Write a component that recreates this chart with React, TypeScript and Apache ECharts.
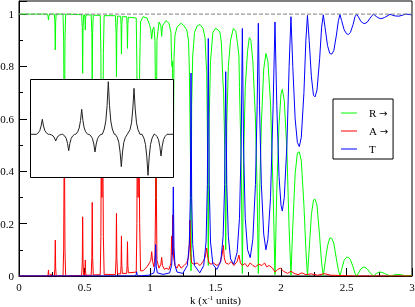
import React, { useEffect, useRef } from 'react';
import * as echarts from 'echarts';

const SERIES_NAMES = ['R →', 'A →', 'T'];

const R_DATA = [
  [0, 1], [0.218, 1], [0.222, 0.99], [0.225, 0.977], [0.228, 0.99], [0.232, 1],
  [0.27, 1], [0.274, 0.97], [0.277, 0.863], [0.28, 0.97], [0.284, 1],
  [0.336, 1], [0.341, 0.9], [0.346, 0.4], [0.351, 0.9], [0.356, 1],
  [0.478, 0.998], [0.483, 0.95], [0.486, 0.774], [0.489, 0.95], [0.494, 0.997],
  [0.501, 0.997], [0.504, 0.98], [0.506, 0.939], [0.508, 0.98], [0.511, 0.997],
  [0.551, 0.997], [0.556, 0.93], [0.559, 0.719], [0.562, 0.93], [0.567, 0.996],
  [0.62, 0.995], [0.625, 0.85], [0.628, 0.45], [0.633, 0.7], [0.639, 0.4], [0.644, 0.85], [0.65, 0.994],
  [0.736, 0.994], [0.741, 0.93], [0.744, 0.761], [0.747, 0.93], [0.752, 0.992],
  [0.776, 0.992], [0.779, 0.96], [0.782, 0.847], [0.785, 0.96], [0.789, 0.99],
  [0.822, 0.99], [0.825, 0.96], [0.828, 0.869], [0.831, 0.96], [0.835, 0.988],
  [0.895, 0.985], [0.9, 0.8], [0.903, 0.4], [0.909, 0.7], [0.916, 0.4], [0.921, 0.8], [0.928, 0.97],
  [0.947, 0.99], [0.977, 0.985], [0.996, 0.96], [1.006, 0.94], [1.013, 0.905], [1.02, 0.94], [1.03, 0.95],
  [1.038, 0.9], [1.043, 0.6], [1.046, 0.23], [1.049, 0.6], [1.053, 0.9], [1.069, 0.97], [1.083, 0.955],
  [1.089, 0.915], [1.095, 0.955], [1.122, 0.975], [1.145, 0.965], [1.16, 0.93], [1.164, 0.84], [1.168, 0.8],
  [1.172, 0.82], [1.178, 0.43], [1.183, 0.83], [1.191, 0.92], [1.206, 0.95], [1.237, 0.965], [1.26, 0.955],
  [1.28, 0.94], [1.294, 0.9], [1.3, 0.8], [1.305, 0.6], [1.309, 0.45], [1.313, 0.02], [1.318, 0.65],
  [1.326, 0.84], [1.34, 0.93], [1.36, 0.955], [1.382, 0.96], [1.405, 0.945], [1.42, 0.91], [1.428, 0.82],
  [1.433, 0.78], [1.438, 0.55], [1.445, 0.04], [1.452, 0.6], [1.462, 0.82], [1.48, 0.93], [1.5, 0.945],
  [1.52, 0.94], [1.534, 0.93], [1.545, 0.89], [1.556, 0.75], [1.562, 0.7], [1.57, 0.5], [1.578, 0.1],
  [1.586, 0.58], [1.598, 0.8], [1.615, 0.9], [1.636, 0.945], [1.655, 0.935], [1.665, 0.9], [1.679, 0.84],
  [1.683, 0.72], [1.696, 0.44], [1.705, 0.01], [1.714, 0.43], [1.727, 0.72], [1.745, 0.86], [1.758, 0.91],
  [1.77, 0.9], [1.785, 0.82], [1.805, 0.6], [1.818, 0.32], [1.827, 0.01], [1.836, 0.3], [1.85, 0.58],
  [1.868, 0.79], [1.885, 0.85], [1.9, 0.82], [1.92, 0.66], [1.94, 0.32], [1.954, 0.005],
  [1.968, 0.33], [1.985, 0.58], [2.0, 0.695], [2.01, 0.713], [2.025, 0.67], [2.045, 0.48], [2.062, 0.18],
  [2.076, 0.003], [2.09, 0.19], [2.108, 0.39], [2.125, 0.47], [2.14, 0.474], [2.155, 0.44], [2.175, 0.27],
  [2.19, 0.1], [2.202, 0], [2.215, 0.1], [2.232, 0.235], [2.248, 0.29], [2.26, 0.293], [2.275, 0.27],
  [2.295, 0.15], [2.31, 0.05], [2.323, 0], [2.336, 0.05], [2.355, 0.115], [2.372, 0.145], [2.387, 0.144],
  [2.403, 0.125], [2.423, 0.065], [2.438, 0.022], [2.45, 0], [2.463, 0.025], [2.482, 0.06], [2.5, 0.072],
  [2.515, 0.071], [2.53, 0.062], [2.55, 0.035], [2.565, 0.01], [2.578, 0], [2.59, 0.01], [2.61, 0.027],
  [2.628, 0.034], [2.641, 0.033], [2.66, 0.026], [2.68, 0.012], [2.705, 0], [2.73, 0.01], [2.75, 0.015],
  [2.77, 0.014], [2.79, 0.01], [2.832, 0], [2.87, 0.005], [2.9, 0.006], [2.925, 0.004], [2.954, 0], [3, 0.003],
];

const A_DATA = [
  [0, 0], [0.218, 0], [0.222, 0.006], [0.225, 0.023], [0.228, 0.006], [0.232, 0],
  [0.24, 0], [0.244, 0.008], [0.248, 0],
  [0.27, 0], [0.274, 0.03], [0.277, 0.137], [0.28, 0.03], [0.284, 0],
  [0.336, 0], [0.341, 0.1], [0.346, 0.6], [0.351, 0.1], [0.356, 0],
  [0.478, 0.002], [0.483, 0.05], [0.486, 0.226], [0.489, 0.05], [0.494, 0.003],
  [0.501, 0.003], [0.504, 0.02], [0.506, 0.061], [0.508, 0.02], [0.511, 0.003],
  [0.551, 0.003], [0.556, 0.07], [0.559, 0.281], [0.562, 0.07], [0.567, 0.004],
  [0.62, 0.005], [0.625, 0.15], [0.628, 0.55], [0.633, 0.3], [0.639, 0.6], [0.644, 0.15], [0.65, 0.006],
  [0.736, 0.006], [0.741, 0.07], [0.744, 0.239], [0.747, 0.07], [0.752, 0.008],
  [0.776, 0.008], [0.779, 0.04], [0.782, 0.153], [0.785, 0.04], [0.789, 0.01],
  [0.822, 0.01], [0.825, 0.04], [0.828, 0.131], [0.831, 0.04], [0.835, 0.012],
  [0.895, 0.015], [0.9, 0.2], [0.903, 0.6], [0.909, 0.3], [0.916, 0.6], [0.921, 0.2], [0.928, 0.02],
  [0.947, 0.02], [0.977, 0.035], [0.996, 0.05], [1.006, 0.06], [1.013, 0.093], [1.02, 0.055], [1.03, 0.035],
  [1.038, 0.08], [1.043, 0.3], [1.046, 0.65], [1.049, 0.3], [1.053, 0.06], [1.069, 0.03], [1.083, 0.045],
  [1.089, 0.071], [1.095, 0.04], [1.11, 0.025], [1.122, 0.03], [1.145, 0.025], [1.16, 0.05], [1.166, 0.153],
  [1.17, 0.08], [1.174, 0.233], [1.18, 0.07], [1.191, 0.04], [1.206, 0.03], [1.22, 0.045], [1.237, 0.03],
  [1.26, 0.04], [1.28, 0.05], [1.294, 0.07], [1.3, 0.12], [1.305, 0.214], [1.31, 0.09], [1.318, 0.05],
  [1.336, 0.045], [1.36, 0.05], [1.382, 0.04], [1.405, 0.055], [1.42, 0.07], [1.428, 0.09], [1.433, 0.107],
  [1.438, 0.08], [1.45, 0.05], [1.466, 0.045], [1.483, 0.05], [1.511, 0.04], [1.534, 0.05], [1.55, 0.08],
  [1.56, 0.117], [1.567, 0.07], [1.578, 0.05], [1.6, 0.045], [1.62, 0.055], [1.64, 0.04], [1.665, 0.055],
  [1.679, 0.08], [1.69, 0.05], [1.705, 0.04], [1.725, 0.048], [1.745, 0.035], [1.765, 0.05], [1.785, 0.04],
  [1.805, 0.035], [1.83, 0.045], [1.855, 0.04], [1.875, 0.05], [1.89, 0.035], [1.91, 0.04], [1.935, 0.03],
  [1.954, 0.015], [1.975, 0.025], [1.995, 0.03], [2.02, 0.018], [2.05, 0.01], [2.076, 0.018], [2.1, 0.01],
  [2.13, 0.005], [2.16, 0.012], [2.19, 0.005], [2.23, 0.008], [2.28, 0.003], [2.33, 0.009], [2.38, 0.003],
  [2.45, 0.002], [2.55, 0], [3, 0],
];

const T_DATA = [
  [0, 0], [0.885, 0], [0.894, 0.004], [0.898, 0.016], [0.902, 0.004], [0.91, 0],
  [0.99, 0.003], [1.03, 0.012], [1.038, 0.035], [1.043, 0.12], [1.048, 0.035], [1.056, 0.012], [1.1, 0.006],
  [1.15, 0.012], [1.165, 0.04], [1.173, 0.11], [1.178, 0.34], [1.183, 0.11], [1.191, 0.04], [1.206, 0.015], [1.25, 0.01],
  [1.285, 0.04], [1.3, 0.12], [1.308, 0.3], [1.313, 0.775], [1.318, 0.3], [1.326, 0.12], [1.34, 0.04], [1.38, 0.012],
  [1.41, 0.04], [1.428, 0.13], [1.438, 0.35], [1.445, 0.907], [1.452, 0.35], [1.462, 0.13], [1.48, 0.045], [1.51, 0.025],
  [1.54, 0.055], [1.558, 0.15], [1.57, 0.35], [1.578, 0.78], [1.586, 0.35], [1.598, 0.15], [1.615, 0.065], [1.64, 0.045],
  [1.665, 0.09], [1.683, 0.22], [1.696, 0.5], [1.705, 0.945], [1.714, 0.5], [1.727, 0.22], [1.745, 0.1], [1.765, 0.07],
  [1.785, 0.14], [1.805, 0.35], [1.818, 0.65], [1.827, 0.965], [1.836, 0.65], [1.85, 0.35], [1.868, 0.16], [1.885, 0.1],
  [1.9, 0.14], [1.92, 0.3], [1.94, 0.65], [1.954, 0.97], [1.968, 0.65], [1.985, 0.38], [2.0, 0.27], [2.01, 0.248],
  [2.025, 0.3], [2.045, 0.5], [2.062, 0.8], [2.076, 0.99], [2.09, 0.8], [2.108, 0.6], [2.125, 0.51], [2.14, 0.494],
  [2.155, 0.53], [2.175, 0.7], [2.19, 0.9], [2.202, 0.995], [2.215, 0.9], [2.232, 0.76], [2.248, 0.69], [2.26, 0.684],
  [2.275, 0.71], [2.295, 0.83], [2.31, 0.95], [2.323, 0.997], [2.336, 0.95], [2.355, 0.88], [2.372, 0.85], [2.387, 0.847],
  [2.403, 0.86], [2.423, 0.92], [2.438, 0.975], [2.45, 0.998], [2.463, 0.975], [2.482, 0.94], [2.5, 0.925], [2.515, 0.922],
  [2.53, 0.93], [2.55, 0.96], [2.565, 0.99], [2.578, 0.999], [2.59, 0.99], [2.61, 0.972], [2.628, 0.965], [2.641, 0.964],
  [2.66, 0.97], [2.68, 0.985], [2.705, 1], [2.73, 0.99], [2.75, 0.984], [2.77, 0.983],
  [2.79, 0.987], [2.832, 0.999], [2.87, 0.993], [2.9, 0.992], [2.954, 1], [3, 0.997],
];

const REF_LINE = [[0, 1], [3, 1]];

const INSET_DATA = [
  [0, 0],
  [5.3, 0], [7.3, 1.5], [8.8, 3.8], [10.1, 8.3], [11.3, 15], [12.5, 8.3], [13.8, 3.8], [15.3, 1.5], [17.3, 0],
  [18.7, 0], [20.7, -0.7], [22.2, -1.7], [23.5, -3.7], [24.7, -6.7], [25.9, -3.7], [27.2, -1.7], [28.7, -0.7], [30.7, 0],
  [31.7, 0], [33.7, -1.6], [35.2, -4.1], [36.5, -9], [37.7, -16.4], [38.9, -9], [40.2, -4.1], [41.7, -1.6], [43.7, 0],
  [44.7, 0], [46.7, 2.5], [48.2, 6.3], [49.5, 13.8], [50.7, 25], [51.9, 13.8], [53.2, 6.3], [54.7, 2.5], [56.7, 0],
  [58, 0], [60, -1.8], [61.5, -4.4], [62.8, -9.7], [64, -17.7], [65.2, -9.7], [66.5, -4.4], [68, -1.8], [70, 0],
  [71.3, 0], [73.3, 5.3], [74.8, 13.2], [76.1, 28.9], [77.3, 52.6], [78.5, 28.9], [79.8, 13.2], [81.3, 5.3], [83.3, 0],
  [84.3, 0], [86.3, -3.2], [87.8, -8.1], [89.1, -17.8], [90.3, -32.4], [91.5, -17.8], [92.8, -8.1], [94.3, -3.2], [96.3, 0],
  [97, 0], [99, 4.6], [100.5, 11.5], [101.8, 25.3], [103, 46], [104.2, 25.3], [105.5, 11.5], [107, 4.6], [109, 0],
  [111, 0], [113, -4.1], [114.5, -10.3], [115.8, -22.6], [117, -41], [118.2, -22.6], [119.5, -10.3], [121, -4.1], [123, 0],
  [124, 0], [126, -2.2], [127.5, -5.4], [128.8, -11.9], [130, -21.7], [131.2, -11.9], [132.5, -5.4], [134, -2.2], [136, 0],
  [142, 0],
];

const FONT = 'Liberation Serif';

export default function App() {
  const ref = useRef<HTMLDivElement>(null);
  useEffect(() => {
    if (!ref.current) return;
    const chart = echarts.init(ref.current, null, { renderer: 'svg' });
    const tickColor = '#000';
    chart.setOption({
      animation: false,
      textStyle: { fontFamily: FONT },
      grid: [
        {
          left: 19, top: 1, width: 393, height: 275, show: true, borderColor: '#000', borderWidth: 1,
          backgroundColor: 'transparent', containLabel: false, outerBoundsMode: 'none',
        },
        { left: 31, top: 80, width: 142, height: 97, containLabel: false, outerBoundsMode: 'none' },
      ],
      xAxis: [
        {
          gridIndex: 0, type: 'value', min: 0, max: 3, interval: 0.5,
          axisLine: { show: true, onZero: false, lineStyle: { color: tickColor } },
          axisTick: { show: true, inside: true, length: 8, lineStyle: { color: tickColor } },
          minorTick: { show: true, splitNumber: 2, length: 4, lineStyle: { color: tickColor } },
          splitLine: { show: false },
          minorSplitLine: { show: false },
          axisLabel: { color: '#000', fontSize: 11, fontFamily: FONT, margin: 5 },
          name: '{a|k (x}{b|-1}{a| units)}',
          nameLocation: 'middle',
          nameGap: 18,
          nameMoveOverlap: false,
          nameTextStyle: {
            color: '#000', fontFamily: FONT, fontSize: 11, lineHeight: 12,
            rich: {
              a: { fontSize: 11, fontFamily: FONT, color: '#000', lineHeight: 12 },
              b: { fontSize: 7, fontFamily: FONT, color: '#000', lineHeight: 12, verticalAlign: 'top' },
            },
          },
        },
        { gridIndex: 1, type: 'value', min: 0, max: 142, show: false },
      ],
      yAxis: [
        {
          gridIndex: 0, type: 'value', min: 0, max: 1.05, interval: 0.2,
          axisLine: { show: true, onZero: false, lineStyle: { color: tickColor } },
          axisTick: { show: true, inside: true, length: 8, lineStyle: { color: tickColor } },
          minorTick: { show: true, splitNumber: 2, length: 4, lineStyle: { color: tickColor } },
          splitLine: { show: false },
          minorSplitLine: { show: false },
          axisLabel: { color: '#000', fontSize: 11, fontFamily: FONT, margin: 5, showMaxLabel: false },
        },
        { gridIndex: 1, type: 'value', min: -42.7, max: 54.3, show: false },
      ],
      legend: {
        data: SERIES_NAMES,
        orient: 'vertical',
        left: 333,
        top: 99,
        padding: [7, 5, 3, 8],
        itemGap: 4,
        itemWidth: 16,
        itemHeight: 1,
        icon: 'rect',
        backgroundColor: '#fff',
        borderColor: '#000',
        borderWidth: 1,
        borderRadius: 0,
        formatter: (name: string) => {
          const parts = name.split(' ');
          return parts.length > 1 ? `{t|${parts[0]}} {r|${parts[1]}}` : `{t|${parts[0]}}`;
        },
        textStyle: {
          fontFamily: FONT, fontSize: 11, color: '#000', lineHeight: 14, padding: [0, 0, 0, 7],
          rich: {
            t: { fontFamily: FONT, fontSize: 11, color: '#000', lineHeight: 14 },
            r: { fontFamily: 'DejaVu Sans', fontSize: 10, color: '#000', lineHeight: 14 },
          },
        },
      },
      graphic: {
        elements: [
          {
            type: 'rect',
            z: 100,
            shape: { x: 30.5, y: 79.5, width: 143, height: 98 },
            style: { fill: '#fff', stroke: '#000', lineWidth: 1 },
          },
        ],
      },
      series: [
        {
          name: SERIES_NAMES[0], type: 'line', xAxisIndex: 0, yAxisIndex: 0, data: R_DATA,
          symbol: 'none', showSymbol: false,
          lineStyle: { color: '#00ff00', width: 1 }, itemStyle: { color: '#00ff00' }, z: 2,
        },
        {
          name: SERIES_NAMES[1], type: 'line', xAxisIndex: 0, yAxisIndex: 0, data: A_DATA,
          symbol: 'none', showSymbol: false,
          lineStyle: { color: '#ff0000', width: 1 }, itemStyle: { color: '#ff0000' }, z: 3,
        },
        {
          name: SERIES_NAMES[2], type: 'line', xAxisIndex: 0, yAxisIndex: 0, data: T_DATA,
          symbol: 'none', showSymbol: false,
          lineStyle: { color: '#0000ff', width: 1 }, itemStyle: { color: '#0000ff' }, z: 4,
        },
        {
          name: 'unity', type: 'line', xAxisIndex: 0, yAxisIndex: 0, data: REF_LINE,
          symbol: 'none', showSymbol: false, silent: true,
          lineStyle: { color: '#808080', width: 1, type: [4, 2] }, z: 5,
        },
        {
          name: 'inset', type: 'line', xAxisIndex: 1, yAxisIndex: 1, data: INSET_DATA,
          symbol: 'none', showSymbol: false, silent: true,
          lineStyle: { color: '#222', width: 1 }, z: 110,
        },
      ],
    });
    return () => chart.dispose();
  }, []);
  return <div ref={ref} style={{ position: 'fixed', left: 0, top: 0, width: 415, height: 307 }} />;
}
